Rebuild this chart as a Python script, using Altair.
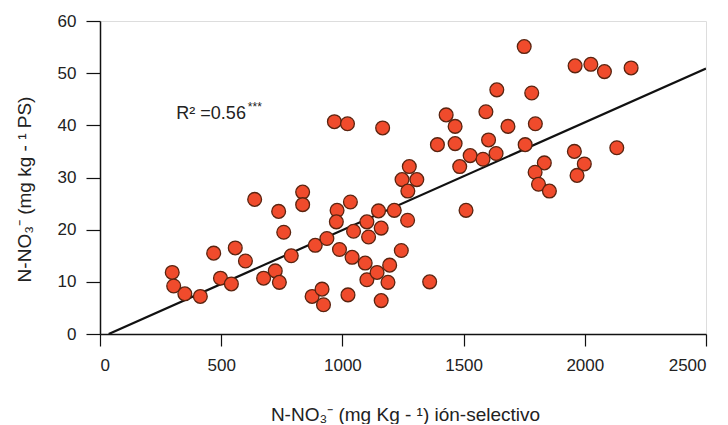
import altair as alt
import pandas as pd

# Scatter data: N-NO3 ion-selective (x) vs N-NO3 lab (y)
x_vals = [298, 304, 350, 414, 469, 497, 542, 558, 600, 638,
          675, 723, 740, 737, 758, 789, 836, 836, 875, 916,
          922, 888, 936, 967, 1021, 978, 975, 988, 1033, 1023,
          1040, 1046, 1094, 1101, 1108, 1101, 1143, 1149, 1160, 1160,
          1166, 1188, 1195, 1214, 1243, 1246, 1270, 1276, 1307, 1269,
          1360, 1392, 1428, 1465, 1465, 1484, 1510, 1527, 1580, 1592,
          1603, 1634, 1637, 1683, 1750, 1754, 1781, 1796, 1833, 1795,
          1809, 1854, 1957, 1998, 1968, 1960, 2025, 2081, 2191, 2132]
y_vals = [11.8, 9.2, 7.7, 7.2, 15.5, 10.7, 9.6, 16.5, 14.0, 25.8,
          10.7, 12.1, 9.9, 23.5, 19.5, 15.0, 27.2, 24.8, 7.2, 8.6,
          5.6, 17.0, 18.3, 40.7, 40.3, 23.7, 21.5, 16.2, 25.3, 7.5,
          14.7, 19.7, 13.6, 21.5, 18.6, 10.4, 11.8, 23.6, 20.3, 6.4,
          39.5, 9.9, 13.2, 23.7, 16.0, 29.6, 27.4, 32.1, 29.6, 21.8,
          10.0, 36.3, 42.0, 39.8, 36.5, 32.1, 23.7, 34.2, 33.5, 42.6,
          37.2, 34.6, 46.8, 39.8, 55.1, 36.3, 46.2, 40.3, 32.8, 31.0,
          28.7, 27.4, 35.0, 32.6, 30.4, 51.4, 51.7, 50.3, 51.0, 35.7]

# Fitted regression line end points
line_x = [36, 2500]
line_y = [0.0, 50.9]

x_ticks = [0, 500, 1000, 1500, 2000, 2500]
y_ticks = [0, 10, 20, 30, 40, 50, 60]

r2_text = ["R² =0.56"]
r2_stars = ["***"]
r2_x = [315]
r2_y = [41.2]
stars_x = [610]
stars_y = [42.8]

pts = pd.DataFrame({"x": x_vals, "y": y_vals})
line_df = pd.DataFrame({"x": line_x, "y": line_y})
txt_df = pd.DataFrame({"x": r2_x, "y": r2_y, "t": r2_text})
stars_df = pd.DataFrame({"x": stars_x, "y": stars_y, "t": r2_stars})

FONT = "Liberation Sans"

xscale = alt.Scale(domain=[0, 2500], nice=False, zero=False)
yscale = alt.Scale(domain=[0, 60], nice=False)

xaxis = alt.Axis(
    values=x_ticks, format="d", title="N-NO₃⁻ (mg Kg - ¹) ión-selectivo",
    grid=False, domainColor="#111", domainWidth=1.5, tickColor="#111",
    tickWidth=1.2, tickSize=12, labelFont=FONT, labelFontSize=17,
    labelColor="#222", labelPadding=11, titleFont=FONT, titleFontSize=19,
    titleFontWeight="normal", titleColor="#222", titleX=305, titleY=80,
    titleBaseline="middle", titleAnchor="middle", titleAlign="center",
)
yaxis = alt.Axis(
    values=y_ticks, format="d", title="N-NO₃⁻  (mg kg - ¹ PS)",
    grid=False, domainColor="#111", domainWidth=1.5, tickColor="#111",
    tickWidth=1.2, tickSize=14, labelFont=FONT, labelFontSize=17,
    labelColor="#222", labelPadding=10, titleFont=FONT, titleFontSize=19,
    titleFontWeight="normal", titleColor="#222", titleX=-76, titleY=168,
    titleBaseline="middle", titleAlign="center", titleAngle=-90,
)

line = alt.Chart(line_df).mark_line(color="#111", strokeWidth=2.2, clip=True).encode(
    x=alt.X("x:Q", scale=xscale, axis=xaxis),
    y=alt.Y("y:Q", scale=yscale, axis=yaxis),
)

points = alt.Chart(pts).mark_point(
    filled=True, shape="circle", size=190, fill="#f04b2c", fillOpacity=1,
    stroke="#5a2410", strokeWidth=1.3, opacity=1,
).encode(
    x=alt.X("x:Q", scale=xscale),
    y=alt.Y("y:Q", scale=yscale),
)

text = alt.Chart(txt_df).mark_text(
    align="left", baseline="alphabetic", font=FONT, fontSize=18, color="#222"
).encode(x=alt.X("x:Q", scale=xscale), y=alt.Y("y:Q", scale=yscale), text="t:N")

stars = alt.Chart(stars_df).mark_text(
    align="left", baseline="alphabetic", font=FONT, fontSize=12, color="#222"
).encode(x=alt.X("x:Q", scale=xscale), y=alt.Y("y:Q", scale=yscale), text="t:N")

chart = alt.layer(line, points, text, stars).properties(
    width=606, height=313,
    padding={"left": 92, "top": 13, "right": 14, "bottom": 90},
    autosize=alt.AutoSizeParams(type="none"),
).configure_view(
    fill="#fbfbe0", stroke="#777", strokeWidth=1,
).configure(background="white")

chart.save("out.html", embed_options={"renderer": "svg", "actions": False})
